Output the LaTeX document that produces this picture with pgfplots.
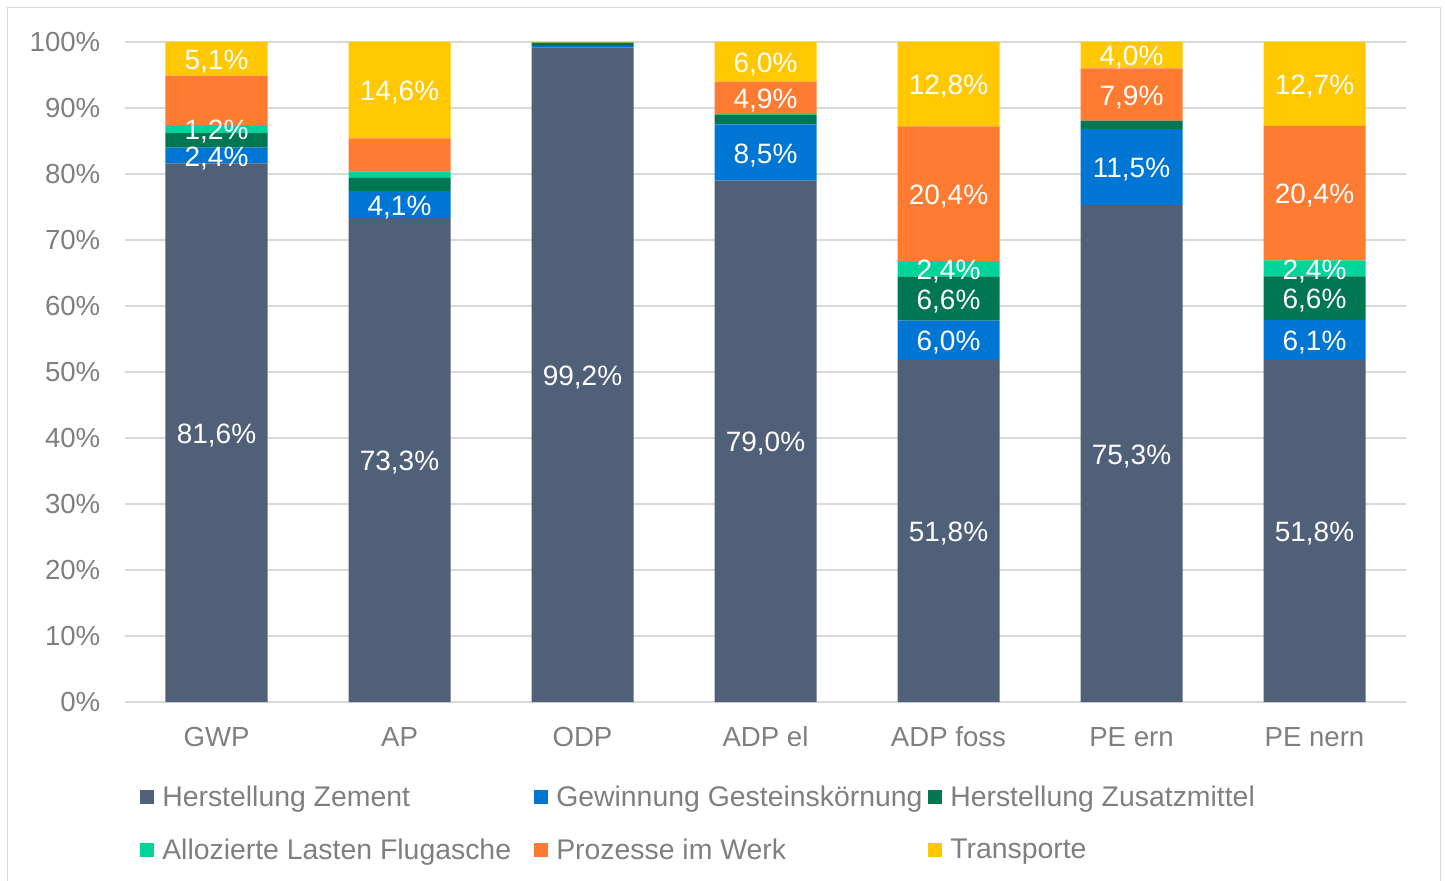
\documentclass[border=0pt]{standalone}
\usepackage{pgfplots}
\pgfplotsset{compat=1.18}
\usepackage{pgfplotstable}
\usepackage{fontspec}
\setmainfont{Liberation Sans}
\definecolor{czem}{HTML}{506079}
\definecolor{cgew}{HTML}{0076D4}
\definecolor{czus}{HTML}{007652}
\definecolor{cflu}{HTML}{00D49A}
\definecolor{cpro}{HTML}{FF7B32}
\definecolor{ctra}{HTML}{FFC800}
\definecolor{txtgray}{HTML}{7F7F7F}
\definecolor{gridgray}{HTML}{D9D9D9}
\pgfplotstableread{
x zem zemL gew gewL zus zusL flu fluL pro proL tra traL
0 81.6 81,6\% 2.4 2,4\% 2.2 {} 1.2 1,2\% 7.5 {} 5.1 5,1\%
1 73.3 73,3\% 4.1 4,1\% 2.0 {} 1.0 {} 5.0 {} 14.6 14,6\%
2 99.2 99,2\% 0.2 {} 0.5 {} 0.0 {} 0.0 {} 0.1 {}
3 79.0 79,0\% 8.5 8,5\% 1.5 {} 0.1 {} 4.9 4,9\% 6.0 6,0\%
4 51.8 51,8\% 6.0 6,0\% 6.6 6,6\% 2.4 2,4\% 20.4 20,4\% 12.8 12,8\%
5 75.3 75,3\% 11.5 11,5\% 1.3 {} 0.0 {} 7.9 7,9\% 4.0 4,0\%
6 51.8 51,8\% 6.1 6,1\% 6.6 6,6\% 2.4 2,4\% 20.4 20,4\% 12.7 12,7\%
}\data
\begin{document}
\begin{tikzpicture}
\path[use as bounding box] (-93.75pt,-134.25pt) rectangle (990pt,526.5pt);
\draw[gridgray, line width=0.75pt] (-87.75pt,-140pt) rectangle (986.25pt,520.5pt);
\begin{axis}[
  at={(0pt,0pt)}, anchor=south west,
  scale only axis, width=960.75pt, height=495pt,
  ybar stacked, bar width=76.5pt,
  xmin=-0.5, xmax=6.5, ymin=0, ymax=100, enlargelimits=false,
  clip=false,
  xtick={0,...,6}, xticklabels={GWP,AP,ODP,ADP el,ADP foss,PE ern,PE nern},
  ytick={0,10,...,100}, yticklabel={\pgfmathprintnumber{\tick}\%},
  ymajorgrids, grid style={gridgray, line width=1pt},
  axis line style={draw=none}, major tick length=0pt,
  tick label style={font=\fontsize{20.7}{24}\selectfont, text=txtgray},
  /pgf/number format/assume math mode=true,
  yticklabel style={xshift=-15pt},
  xticklabel style={anchor=base, yshift=-33pt},
  nodes near coords,
  point meta=explicit symbolic,
  every node near coord/.append style={anchor=center, yshift=-2pt, text=white, font=\fontsize{21}{24}\selectfont},
  legend columns=3,
  legend cell align=left,
  legend image code/.code={\fill[#1] (0pt,-5.25pt) rectangle (10.5pt,5.25pt);},
  legend style={at={(0.0117,-0.127)}, anchor=north west, draw=none, fill=none, inner sep=0pt,
    font=\fontsize{21.3}{24}\selectfont, nodes={inner sep=0pt, text=txtgray}, row sep=22.5pt,
    /tikz/every odd column/.append style={column sep=6pt}},
]
\addplot[fill=czem, draw=none] table[x=x, y=zem, meta=zemL] {\data};
\addlegendentry{\makebox[279pt][l]{Herstellung Zement}}
\addplot[fill=cgew, draw=none] table[x=x, y=gew, meta=gewL] {\data};
\addlegendentry{\makebox[279pt][l]{Gewinnung Gesteinskörnung}}
\addplot[fill=czus, draw=none] table[x=x, y=zus, meta=zusL] {\data};
\addlegendentry{\makebox[279pt][l]{Herstellung Zusatzmittel}}
\addplot[fill=cflu, draw=none] table[x=x, y=flu, meta=fluL] {\data};
\addlegendentry{\makebox[279pt][l]{Allozierte Lasten Flugasche}}
\addplot[fill=cpro, draw=none] table[x=x, y=pro, meta=proL] {\data};
\addlegendentry{\makebox[279pt][l]{Prozesse im Werk}}
\addplot[fill=ctra, draw=none] table[x=x, y=tra, meta=traL] {\data};
\addlegendentry{\makebox[279pt][l]{Transporte}}
\end{axis}
\end{tikzpicture}
\end{document}
